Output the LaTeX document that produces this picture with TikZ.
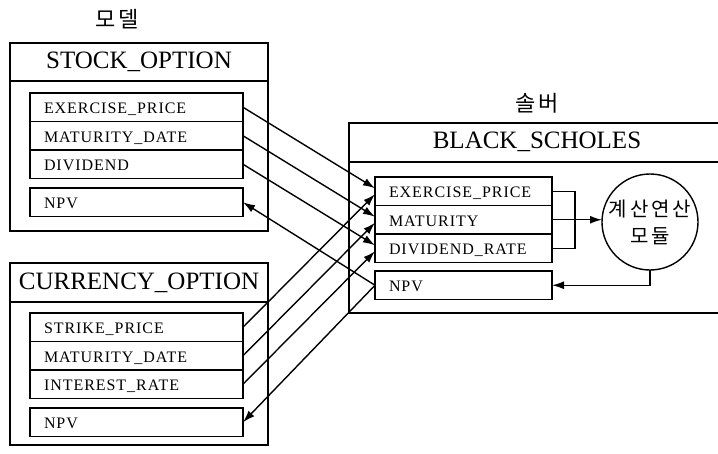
\documentclass[tikz,border=0pt]{standalone}
\usepackage{fontspec}
\setmainfont{Liberation Serif}
\newfontfamily\kor[LetterSpace=15]{Noto Sans CJK KR}
\newfontfamily\fieldfont[LetterSpace=6]{Liberation Serif}
\usetikzlibrary{arrows.meta,positioning}

\begin{document}
\begin{tikzpicture}[
    x=1pt,
    y=-1pt,
    line width=1.4pt,
    every node/.style={inner sep=0pt, outer sep=0pt},
    frame/.style={draw=black, line width=1.4pt},
    head/.style={font=\fontsize{25}{28}\selectfont},
    title/.style={font=\kor\fontsize{22}{24}\selectfont},
    field/.style={draw, line width=1.4pt, anchor=north west, text width=#1,
      minimum height=28.5pt, align=left, inner xsep=14pt,
      text height=13.5pt, text depth=1pt,
      font=\fieldfont\fontsize{16}{18}\selectfont},
    module/.style={circle, draw, line width=1.4pt, minimum size=96pt,
      align=center, font=\kor\fontsize{20}{27}\selectfont},
    conn/.style={-{Latex[length=12pt,width=8pt]}, line width=1.4pt}
  ]
    \useasboundingbox (0,0) rectangle (718,453);

    % Model side: two option classes.
    \node[title] (mtitle) at (117,19) {모델};
    \draw[frame] (10,43) rectangle (268,231);
    \draw[frame] (10,81) -- (268,81);
    \node[head] (shead) at (139,62) {STOCK\_OPTION};
    \node[field=185pt] (sex) at (30,93) {EXERCISE\_PRICE};
    \node[field=185pt, below=0pt of sex] (smat) {MATURITY\_DATE};
    \node[field=185pt, below=0pt of smat] (sdiv) {DIVIDEND};
    \node[field=185pt] (snpv) at (30,188) {NPV};

    \draw[frame] (10,263) rectangle (268,445);
    \draw[frame] (10,302) -- (268,302);
    \node[head] (chead) at (139,283) {CURRENCY\_OPTION};
    \node[field=185pt] (cstr) at (30,313) {STRIKE\_PRICE};
    \node[field=185pt, below=0pt of cstr] (cmat) {MATURITY\_DATE};
    \node[field=185pt, below=0pt of cmat] (cint) {INTEREST\_RATE};
    \node[field=185pt] (cnpv) at (30,408) {NPV};

    % Solver side, box runs off the right edge.
    \node[title] (btitle) at (537,103) {솔버};
    \draw[frame] (718,123) -- (349,123) -- (349,313) -- (718,313);
    \draw[frame] (349,162) -- (718,162);
    \node[head] (bhead) at (537,142) {BLACK\_SCHOLES};
    \node[field=149pt] (bex) at (375,177) {EXERCISE\_PRICE};
    \node[field=149pt, below=0pt of bex] (bmat) {MATURITY};
    \node[field=149pt, below=0pt of bmat] (bdiv) {DIVIDEND\_RATE};
    \node[field=149pt] (bnpv) at (375,271) {NPV};
    \node[module] (engine) at (650,222) {계산연산\\모듈};

    % Inputs into the solver.
    \draw[conn] (sex.east) -- ([yshift=3pt]bex.west);
    \draw[conn] (smat.east) -- ([yshift=3pt]bmat.west);
    \draw[conn] (sdiv.east) -- ([yshift=3pt]bdiv.west);
    \draw[conn] (cstr.east) -- ([yshift=-3pt]bex.west);
    \draw[conn] (cmat.east) -- ([yshift=-3pt]bmat.west);
    \draw[conn] (cint.east) -- ([yshift=-3pt]bdiv.west);

    % Result back to the models.
    \draw[conn] (bnpv.west) -- (snpv.east);
    \draw[conn] (bnpv.west) -- (cnpv.east);

    % Inside the solver.
    \draw (bex.east) -- ++(23,0) |- (bdiv.east);
    \draw[conn] (bmat.east) -- (bmat.east -| engine.west);
    \draw[conn] (engine.south) |- (bnpv.east);
  \end{tikzpicture}
\end{document}
